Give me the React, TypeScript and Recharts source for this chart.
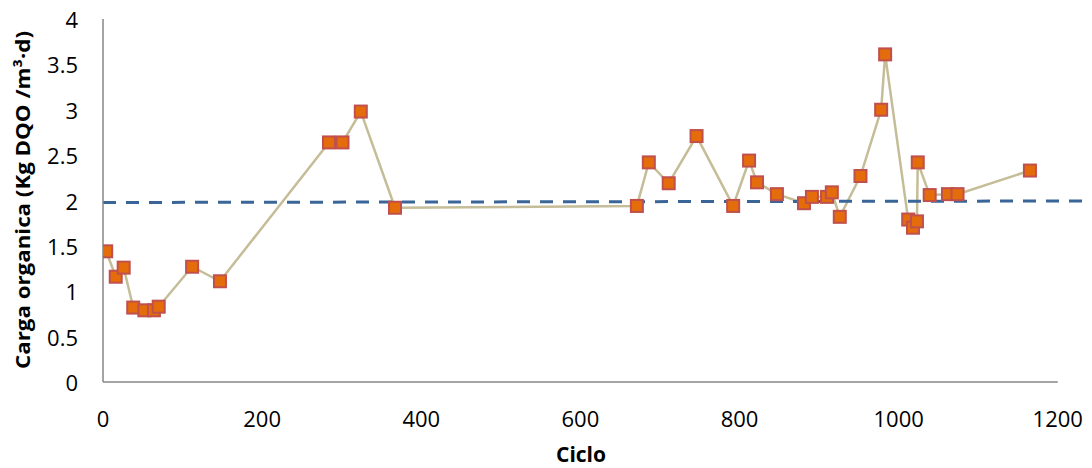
import React from 'react';
import { ComposedChart, Line, XAxis, YAxis, ReferenceLine } from 'recharts';

const cycles = [4, 16, 26, 38, 52, 64, 70, 112, 147, 284, 301, 324, 367, 671, 686, 711, 746, 792, 812, 822, 847, 881, 891, 910, 916, 926, 952, 978, 983, 1012, 1018, 1023, 1024, 1039, 1062, 1074, 1165];
const loads = [1.44, 1.16, 1.26, 0.82, 0.79, 0.79, 0.83, 1.27, 1.11, 2.64, 2.64, 2.98, 1.92, 1.94, 2.42, 2.19, 2.71, 1.94, 2.44, 2.20, 2.07, 1.97, 2.04, 2.04, 2.09, 1.82, 2.27, 3.00, 3.61, 1.79, 1.70, 1.77, 2.42, 2.06, 2.07, 2.07, 2.33];

const trendCycles = [0, 1243];
const trendLoads = [1.978, 1.995];

const xTicks = [0, 200, 400, 600, 800, 1000, 1200];
const yTicks = [0, 0.5, 1, 1.5, 2, 2.5, 3, 3.5, 4];

const seriesData = cycles.map((x, i) => ({ x, y: loads[i] }));
const trendData = trendCycles.map((x, i) => ({ x, y: trendLoads[i] }));

const FONT = '"Open Sans", "Noto Sans", sans-serif';
const AXIS_GRAY = '#868686';

const SquareDot = (props: any) => {
  const { cx, cy, index } = props;
  if (cx == null || cy == null) return null;
  return (
    <rect
      key={`dot-${index}`}
      x={cx - 6}
      y={cy - 6}
      width={12}
      height={12}
      fill="#E46C0A"
      stroke="#C0504D"
      strokeWidth={2}
    />
  );
};

const XTick = (props: any) => {
  const { x, y, payload } = props;
  return (
    <text x={x} y={y + 36} textAnchor="middle" dominantBaseline="central" fontSize={22} fontFamily={FONT} fill="#000">
      {String(payload.value)}
    </text>
  );
};

const YTick = (props: any) => {
  const { x, y, payload } = props;
  return (
    <text x={x - 25} y={y} textAnchor="end" dominantBaseline="central" fontSize={22} fontFamily={FONT} fill="#000">
      {String(payload.value)}
    </text>
  );
};

const YLabel = () => (
  <text
    x={22}
    y={200}
    transform="rotate(-90 22 200)"
    textAnchor="middle"
    dominantBaseline="central"
    fontSize={20}
    fontWeight="bold"
    fontFamily={FONT}
    fill="#000"
    textLength={338}
    lengthAdjust="spacingAndGlyphs"
  >
    Carga organica (Kg DQO /m³·d)
  </text>
);

const XLabel = () => (
  <text x={581} y={454} textAnchor="middle" dominantBaseline="central" fontSize={21} fontWeight="bold" fontFamily={FONT} fill="#000">
    Ciclo
  </text>
);

export default function App() {
  return (
    <div style={{ position: 'absolute', left: 0, top: 0, width: 1092, height: 468, background: '#fff' }}>
      <ComposedChart width={1092} height={468} margin={{ top: 19, right: 0, bottom: 0, left: 0 }}>
        <XAxis
          type="number"
          dataKey="x"
          domain={[0, 1243]}
          ticks={xTicks}
          axisLine={false}
          tickLine={false}
          tickSize={0}
          tickMargin={0}
          height={86}
          tick={<XTick />}
          label={<XLabel />}
          allowDataOverflow
        />
        <YAxis
          type="number"
          dataKey="y"
          domain={[0, 4]}
          ticks={yTicks}
          axisLine={{ stroke: AXIS_GRAY, strokeWidth: 1.5 }}
          tickLine={false}
          tickSize={0}
          tickMargin={0}
          width={103}
          tick={<YTick />}
          label={<YLabel />}
          allowDataOverflow
        />
        <ReferenceLine
          segment={[{ x: 0, y: 0 }, { x: 1200, y: 0 }]}
          stroke={AXIS_GRAY}
          strokeWidth={1.5}
          ifOverflow="visible"
        />
        <Line
          data={seriesData}
          dataKey="y"
          type="linear"
          stroke="#C4BD97"
          strokeWidth={2.5}
          dot={SquareDot}
          activeDot={false}
          isAnimationActive={false}
        />
        <Line
          data={trendData}
          dataKey="y"
          type="linear"
          stroke="#3A6598"
          strokeWidth={3}
          strokeDasharray="13 10"
          dot={false}
          activeDot={false}
          isAnimationActive={false}
        />
      </ComposedChart>
    </div>
  );
}
